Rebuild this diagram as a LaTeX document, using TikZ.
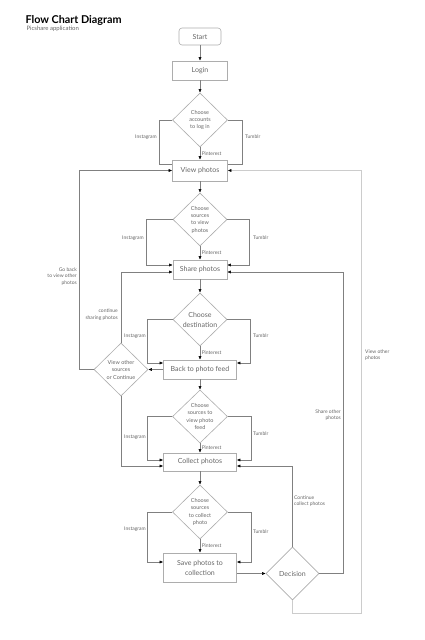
\documentclass[tikz,border=0pt]{standalone}
\usepackage{fontspec}
\setmainfont{Lato}
\usetikzlibrary{shapes.geometric,arrows.meta}
\definecolor{grisTrait}{gray}{0.5}
\definecolor{grisBord}{gray}{0.68}
\definecolor{grisTexte}{gray}{0.4}
\definecolor{grisClair}{gray}{0.8}
\begin{document}
\begin{tikzpicture}[x=1pt,y=-1pt]
	\tikzstyle{boite}=[draw=grisBord,line width=0.6pt,text=grisTexte,font=\fontsize{7}{10}\selectfont,align=center,inner sep=0pt]
	\tikzstyle{losange}=[diamond,aspect=1,draw=grisBord,line width=0.6pt,text=grisTexte,font=\fontsize{5.5}{7.3}\selectfont,align=center,inner sep=0pt]
	\tikzstyle{fleche}=[-{Latex[length=3.5pt,width=3pt,black]},draw=grisTrait,line width=0.5pt]
	\tikzstyle{trait}=[draw=grisTrait,line width=0.5pt]
	\tikzstyle{etiquette}=[text=grisTexte,font=\fontsize{5}{6.5}\selectfont,inner sep=0pt]
	\useasboundingbox (0,0) rectangle (425,640);
	% titre
	\node[anchor=base west,font=\fontsize{10.8}{12}\bfseries\selectfont] (Titre) at (22,23) {Flow Chart Diagram};
	\node[anchor=base west,text=grisTexte,font=\fontsize{6}{7}\selectfont] (SousTitre) at (23,30.5) {Picshare application};
	% noeuds
	\node[boite,rounded corners=3pt,minimum width=42,minimum height=17] (St) at (200,36.5) {Start};
	\node[boite,minimum width=55,minimum height=19] (Lg) at (200,70.5) {Login};
	\node[losange,minimum width=55,minimum height=54] (C1) at (200,120) {Choose\\accounts\\to log in};
	\node[boite,minimum width=55,minimum height=21] (V) at (200,170.5) {View photos};
	\node[losange,minimum width=54,minimum height=53] (C2) at (200,219.5) {Choose\\sources\\to view\\photos};
	\node[boite,minimum width=54,minimum height=19] (Sh) at (200,269.5) {Share photos};
	\node[losange,minimum width=54,minimum height=53,font=\fontsize{7}{10}\selectfont] (C3) at (200,319.5) {Choose\\destination};
	\node[boite,minimum width=73,minimum height=19] (B) at (200,369.5) {Back to photo feed};
	\node[losange,minimum width=54,minimum height=53,font=\fontsize{5.5}{7.5}\selectfont] (Vo) at (121,369.5) {View other\\sources\\or Continue};
	\node[losange,minimum width=55,minimum height=53] (C4) at (200,416.5) {Choose\\sources to\\view photo\\feed};
	\node[boite,minimum width=73,minimum height=18] (Co) at (200,462) {Collect photos};
	\node[losange,minimum width=55,minimum height=54] (C5) at (200,512) {Choose\\sources\\to collect\\photo};
	\node[boite,minimum width=73,minimum height=29] (Sv) at (200,567.5) {Save photos to\\collection};
	\node[losange,minimum width=53,minimum height=53,font=\fontsize{7}{10}\selectfont] (Dc) at (292.5,573.5) {Decision};
	% fleches principales
	\draw[fleche] (St)--(Lg);
	\draw[fleche] (Lg)--(C1);
	\draw[fleche] (C1)--(V) node[etiquette,midway,right=1.5pt] (P1) {Pinterest};
	\draw[fleche] (V)--(C2);
	\draw[fleche] (C2)--(Sh) node[etiquette,midway,right=1.5pt] (P2) {Pinterest};
	\draw[fleche] (Sh)--(C3);
	\draw[fleche] (C3)--(B) node[etiquette,midway,right=1.5pt] (P3) {Pinterest};
	\draw[fleche] (B)--(C4);
	\draw[fleche] (C4)--(Co) node[etiquette,midway,right=1.5pt] (P4) {Pinterest};
	\draw[fleche] (Co)--(C5);
	\draw[fleche] (C5)--(Sv) node[etiquette,midway,right=1.5pt] (P5) {Pinterest};
	% branches laterales
	\draw[trait] (C1.west) -| ([xshift=-13pt,yshift=6.5pt]V.west) -- ([yshift=6.5pt]V.west);
	\draw[trait] (C1.east) -| ([xshift=14pt,yshift=6.5pt]V.east) -- ([yshift=6.5pt]V.east);
	\draw[fleche] (C2.west) -| ([xshift=-26pt,yshift=4.5pt]Sh.west) -- ([yshift=4.5pt]Sh.west);
	\draw[fleche] (C2.east) -| ([xshift=22pt,yshift=4.5pt]Sh.east) -- ([yshift=4.5pt]Sh.east);
	\draw[fleche] (C3.west) -| ([xshift=-16pt,yshift=6.5pt]B.west) -- ([yshift=6.5pt]B.west);
	\draw[fleche] (C3.east) -| ([xshift=13pt,yshift=6.5pt]B.east) -- ([yshift=6.5pt]B.east);
	\draw[fleche] (C4.west) -| ([xshift=-16pt,yshift=2pt]Co.west) -- ([yshift=2pt]Co.west);
	\draw[fleche] (C4.east) -| ([xshift=14pt,yshift=2pt]Co.east) -- ([yshift=2pt]Co.east);
	\draw[fleche] (C5.west) -| ([xshift=-16pt,yshift=5.5pt]Sv.west) -- ([yshift=5.5pt]Sv.west);
	\draw[fleche] (C5.east) -| ([xshift=14pt,yshift=5.5pt]Sv.east) -- ([yshift=5.5pt]Sv.east);
	\node[etiquette,anchor=east] (I1) at (157,137) {Instagram};
	\node[etiquette,anchor=west] (T1) at (245,137) {Tumblr};
	\node[etiquette,anchor=east] (I2) at (144,238) {Instagram};
	\node[etiquette,anchor=west] (T2) at (253,238) {Tumblr};
	\node[etiquette,anchor=east] (I3) at (146,336) {Instagram};
	\node[etiquette,anchor=west] (T3) at (253,336) {Tumblr};
	\node[etiquette,anchor=east] (I4) at (146,437) {Instagram};
	\node[etiquette,anchor=west] (T4) at (253,434) {Tumblr};
	\node[etiquette,anchor=east] (I5) at (146,529) {Instagram};
	\node[etiquette,anchor=west] (T5) at (253,532) {Tumblr};
	% retours
	\draw[fleche] (B.west)--(Vo.east);
	\draw[fleche] (Vo.west) -- ++(-14,0) |- (V.west);
	\draw[fleche] (Vo.north) |- ([yshift=-2.5pt]Sh.west);
	\draw[fleche] (Vo.south) |- ([yshift=-4pt]Co.west);
	\draw[fleche] (Sv.east |- Dc.west) -- (Dc.west);
	\draw[fleche] (Dc.north) |- ([yshift=-4pt]Co.east);
	\draw[fleche] (Dc.east) -- ++(24,0) |- ([yshift=-2.5pt]Sh.east);
	\draw[fleche,draw=grisClair] (Dc.south) -- ++(0,13) -- ++(69,0) |- (V.east);
	\node[etiquette,anchor=north east,align=right] (Gb) at (77,267.5) {Go back\\to view other\\photos};
	\node[etiquette,anchor=east,align=right] (Cs) at (118,314.5) {continue\\sharing photos};
	\node[etiquette,anchor=west,align=left] (Cc) at (294,501) {Continue\\collect photos};
	\node[etiquette,anchor=east,align=right] (So) at (341,415) {Share other\\photos};
	\node[etiquette,anchor=west,align=left] (Vp) at (365,355) {View other\\photos};
\end{tikzpicture}
\end{document}
